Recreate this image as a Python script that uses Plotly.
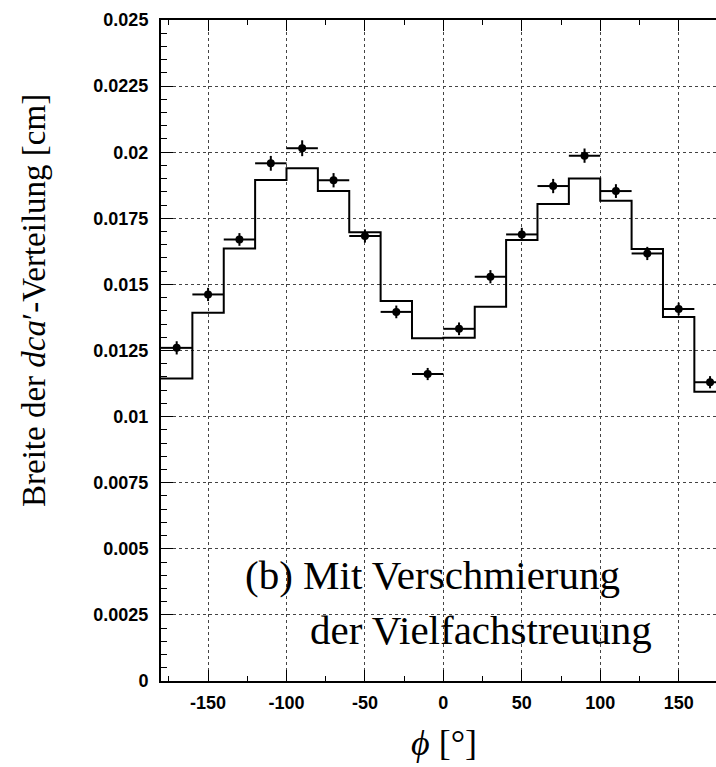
import plotly.graph_objects as go

# Bin layout (degrees)
bin_edges = [-180, -160, -140, -120, -100, -80, -60, -40, -20, 0, 20, 40, 60, 80, 100, 120, 140, 160, 180]
bin_centers = [-170, -150, -130, -110, -90, -70, -50, -30, -10, 10, 30, 50, 70, 90, 110, 130, 150, 170]

# Simulation histogram (step line)
sim_values = [0.01144, 0.01393, 0.01636, 0.01895, 0.01939, 0.01853, 0.01697, 0.01437, 0.01296,
              0.01298, 0.01415, 0.01668, 0.01804, 0.01901, 0.01816, 0.01634, 0.01377, 0.01094]

# Measured data points
data_values = [0.01260, 0.01462, 0.01670, 0.01958, 0.02015, 0.01894, 0.01683, 0.01396, 0.01161,
               0.01332, 0.01529, 0.01689, 0.01872, 0.01987, 0.01853, 0.01617, 0.01407, 0.01130]
data_errors = [0.00025, 0.00025, 0.00024, 0.00028, 0.00030, 0.00027, 0.00025, 0.00024, 0.00023,
               0.00024, 0.00025, 0.00025, 0.00027, 0.00027, 0.00026, 0.00025, 0.00024, 0.00023]
x_half_width = [10] * len(bin_centers)

y_ticks = [0, 0.0025, 0.005, 0.0075, 0.01, 0.0125, 0.015, 0.0175, 0.02, 0.0225, 0.025]
y_tick_labels = ["0", "0.0025", "0.005", "0.0075", "0.01", "0.0125", "0.015", "0.0175", "0.02", "0.0225", "0.025"]
x_ticks = [-150, -100, -50, 0, 50, 100, 150]
x_tick_labels = ["-150", "-100", "-50", "0", "50", "100", "150"]

fig = go.Figure()

fig.add_trace(go.Scatter(
    x=bin_edges,
    y=sim_values + [sim_values[-1]],
    mode="lines",
    line=dict(shape="hv", color="black", width=2),
    hoverinfo="skip",
    showlegend=False,
))

fig.add_trace(go.Scatter(
    x=bin_centers,
    y=data_values,
    mode="markers",
    marker=dict(color="black", size=8, symbol="circle"),
    error_x=dict(type="data", array=x_half_width, width=0, thickness=2, color="black"),
    error_y=dict(type="data", array=data_errors, width=0, thickness=2, color="black"),
    showlegend=False,
))

tick_font = dict(family="Liberation Sans, Arial, sans-serif", size=18, color="black", weight="bold")
serif = "Liberation Serif, serif"

W, H = 716, 767
L, T, B = 161, 20, 86
pw, ph = W - L, H - T - B

fig.update_layout(
    width=W,
    height=H,
    margin=dict(l=L, r=0, t=T, b=B),
    paper_bgcolor="white",
    plot_bgcolor="white",
    xaxis=dict(
        automargin=False,
        range=[-180, 173.8],
        tickmode="array",
        tickvals=x_ticks,
        ticktext=x_tick_labels,
        ticks="inside",
        ticklen=11,
        tickwidth=1,
        tickcolor="black",
        minor=dict(dtick=25, tick0=0, ticks="inside", ticklen=5, tickcolor="black", showgrid=False),
        showline=True,
        linecolor="black",
        linewidth=2,
        mirror="ticks",
        showgrid=True,
        gridcolor="#444",
        griddash="dot",
        gridwidth=1,
        zeroline=False,
        tickfont=tick_font,
        ticklabelstandoff=4,
    ),
    yaxis=dict(
        automargin=False,
        range=[0, 0.025],
        tickmode="array",
        tickvals=y_ticks,
        ticktext=y_tick_labels,
        ticks="inside",
        ticklen=12,
        tickwidth=1,
        tickcolor="black",
        minor=dict(dtick=0.0005, tick0=0, ticks="inside", ticklen=6, tickcolor="black", showgrid=False),
        showline=True,
        linecolor="black",
        linewidth=2,
        mirror=False,
        showgrid=True,
        gridcolor="#444",
        griddash="dot",
        gridwidth=1,
        zeroline=False,
        tickfont=tick_font,
        ticklabelstandoff=7,
    ),
)

# Axis titles
fig.add_annotation(
    x=(34 - L) / pw, y=(H - B - 301) / ph, xref="x domain", yref="y domain", showarrow=False,
    text="Breite der <i>dca</i>′-Verteilung [cm]", textangle=-90,
    font=dict(family=serif, size=33, color="black"),
    xanchor="center", yanchor="middle",
)
fig.add_annotation(
    x=(444 - L) / pw, y=-(743 - (H - B)) / ph, xref="x domain", yref="y domain",
    showarrow=False, text="<i>ϕ</i> [°]",
    font=dict(family=serif, size=36, color="black"),
    xanchor="center", yanchor="middle",
)

fig.add_annotation(
    x=-128, y=0.00401, xref="x", yref="y", xanchor="left", yanchor="middle",
    text="(b) Mit Verschmierung", showarrow=False,
    font=dict(family=serif, size=41, color="black"),
)
fig.add_annotation(
    x=-86, y=0.00192, xref="x", yref="y", xanchor="left", yanchor="middle",
    text="der Vielfachstreuung", showarrow=False,
    font=dict(family=serif, size=41, color="black"),
)

fig.write_html(
    "out.html",
    config={"displayModeBar": False},
    post_script="document.body.style.margin='0px';document.body.style.overflow='hidden';",
)
